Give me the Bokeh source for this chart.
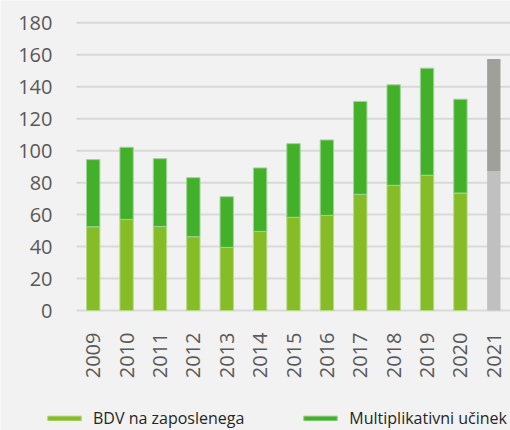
from bokeh.plotting import figure
from bokeh.models import ColumnDataSource, Range1d, Legend, LegendItem, FixedTicker
from bokeh.embed import file_html
from bokeh.resources import INLINE
import math

years = ["2009", "2010", "2011", "2012", "2013", "2014", "2015", "2016", "2017", "2018", "2019", "2020", "2021"]
bdv = [52.4, 57.0, 52.6, 46.2, 39.5, 49.5, 58.3, 59.5, 72.7, 78.3, 84.6, 73.5, 87.1]
multi = [42.0, 45.1, 42.4, 36.9, 31.7, 39.7, 46.1, 47.2, 58.1, 62.9, 67.0, 58.7, 70.2]
series_names = ["BDV na zaposlenega", "Multiplikativni učinek"]
y_ticks = [0, 20, 40, 60, 80, 100, 120, 140, 160, 180]
colors = ["#86BC25", "#43B02A"]
colors_est = ["#C0C0C0", "#A0A09B"]

n_actual = 12  # last year shown in grey (estimate)
year_nums = [int(y) for y in years]

def make_src(sl):
    xs = year_nums[sl]
    b = bdv[sl]
    m = multi[sl]
    return ColumnDataSource(dict(x=xs, b0=[0] * len(xs), b1=b, m1=[bb + mm for bb, mm in zip(b, m)]))

src_a = make_src(slice(0, n_actual))
src_e = make_src(slice(n_actual, None))

# layout (pixels): plot area left edge, top (max tick) and zero line
W_PX, H_PX = 510, 430
AREA_LEFT, Y_TOP_PX, Y_ZERO_PX = 76.0, 22.3, 310.0
x_first = year_nums[0] - 0.5
x_last = year_nums[-1] + 0.5
px_per_x = (W_PX - AREA_LEFT) / (x_last - x_first)
px_per_y = (Y_ZERO_PX - Y_TOP_PX) / y_ticks[-1]
x_range = Range1d(x_first - AREA_LEFT / px_per_x, x_last)
y_range = Range1d(-(H_PX - Y_ZERO_PX) / px_per_y, y_ticks[-1] + Y_TOP_PX / px_per_y)

BG = "#F2F2F2"
FONT = "Open Sans"
p = figure(x_range=x_range, y_range=y_range,
           width=W_PX, height=H_PX, output_backend="svg", toolbar_location=None,
           min_border=0, background_fill_color=BG, border_fill_color=BG, outline_line_color=None)
p.grid.visible = False

# horizontal gridlines over the plot area
p.segment(x0=[x_first] * len(y_ticks), x1=[x_last] * len(y_ticks), y0=y_ticks, y1=y_ticks,
          line_color="#D9D9D9", line_width=2)

W = 0.4
r1 = p.vbar(x="x", bottom="b0", top="b1", width=W, source=src_a, fill_color=colors[0],
            line_color="#B5DA86", line_width=1)
r2 = p.vbar(x="x", bottom="b1", top="m1", width=W, source=src_a, fill_color=colors[1],
            line_color="#9FD39A", line_width=1)
p.vbar(x="x", bottom="b0", top="b1", width=W, source=src_e, fill_color=colors_est[0], line_color=None)
p.vbar(x="x", bottom="b1", top="m1", width=W, source=src_e, fill_color=colors_est[1], line_color=None)

p.xaxis.ticker = FixedTicker(ticks=year_nums)
p.yaxis.ticker = FixedTicker(ticks=y_ticks)
p.xaxis.fixed_location = 0
p.yaxis.fixed_location = x_first

for ax in (p.xaxis, p.yaxis):
    ax.axis_line_color = None
    ax.major_tick_line_color = None
    ax.minor_tick_line_color = None
    ax.major_label_text_color = "#595959"
    ax.major_label_text_font = FONT
    ax.major_label_text_font_size = "20px"

p.yaxis.major_label_standoff = 18
p.xaxis.major_label_standoff = 16
p.xaxis.major_label_orientation = math.pi / 2

legend = Legend(items=[LegendItem(label=series_names[0], renderers=[r1]),
                       LegendItem(label=series_names[1], renderers=[r2])],
                orientation="horizontal", location=(43, 1),
                glyph_width=42, glyph_height=6, label_standoff=8, spacing=55,
                padding=0, margin=0, border_line_color=None, background_fill_alpha=0,
                label_text_font=FONT, label_text_font_size="16px", label_text_color="#262626",
                label_height=20)
p.add_layout(legend, "center")

open("out.html", "w").write(file_html(p, INLINE))
